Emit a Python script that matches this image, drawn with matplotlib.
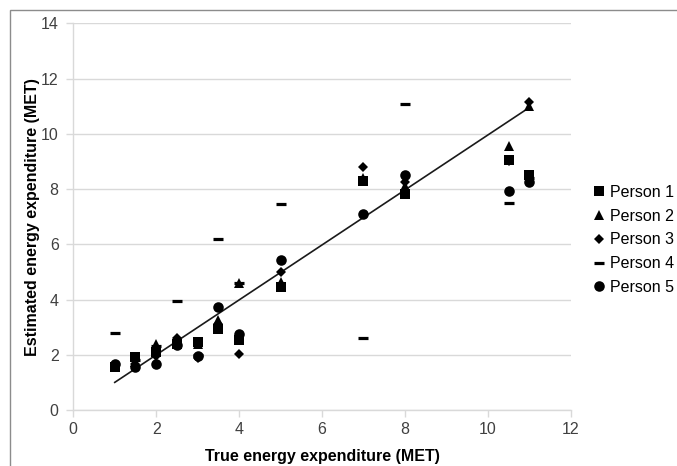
import matplotlib

matplotlib.use("Agg")
import matplotlib.pyplot as plt
from matplotlib.patches import Rectangle

# true activity intensity (MET), same for every person
true_met = [1, 1.5, 2, 2.5, 3, 3.5, 4, 5, 7, 8, 10.5, 11]

person1 = [1.56, 1.93, 2.10, 2.40, 2.47, 2.95, 2.53, 4.45, 8.28, 7.82, 9.05, 8.50]
person2 = [1.60, 1.75, 2.38, 2.55, 2.40, 3.27, 4.60, 4.63, 8.40, 8.10, 9.55, 11.00]
person3 = [1.55, 1.65, 1.95, 2.62, 1.87, 3.10, 2.02, 5.00, 8.78, 8.25, 9.00, 11.15]
person4 = [2.80, 1.80, 2.30, 3.96, 2.00, 6.20, 4.60, 7.46, 2.62, 11.07, 7.50, 8.40]
person5 = [1.66, 1.56, 1.66, 2.35, 1.95, 3.73, 2.74, 5.42, 7.10, 8.52, 7.92, 8.25]

# fitted line drawn in the original
fit_x = [1, 11]
fit_y = [1.0, 10.95]

GRID = "#d9d9d9"
TICK = "#404040"

plt.rcParams.update({
    "font.family": ["Liberation Sans", "DejaVu Sans"],
    "font.size": 11.5,
})

fig = plt.figure(figsize=(6.77, 4.66), dpi=100)
ax = fig.add_axes([73.3 / 677, 1 - 410 / 466, (570.7 - 73.3) / 677, (410 - 23.3) / 466])

# outer chart border (only left/top edges fall inside the picture)
fig.patches.append(Rectangle((10 / 677, -0.1), 1.2, 1 - 10 / 466 + 0.1,
                             transform=fig.transFigure, fill=False,
                             ec="#8c8c8c", lw=1.0))

ax.plot(fit_x, fit_y, color="#1a1a1a", lw=1.2, zorder=2)

series = [
    ("Person 1", person1, dict(marker="s", ms=7.2)),
    ("Person 2", person2, dict(marker="^", ms=7.4)),
    ("Person 3", person3, dict(marker="D", ms=5.2)),
    ("Person 4", person4, dict(marker="_", ms=7.8, mew=2.3)),
    ("Person 5", person5, dict(marker="o", ms=7.6)),
]
for name, vals, style in series:
    kw = dict(color="black", mec="black", linestyle="none", label=name)
    if style["marker"] != "_":
        kw["mew"] = 0
    kw.update(style)
    ax.plot(true_met, vals, zorder=3, **kw)

ax.set_xlim(0, 12)
ax.set_ylim(0, 14)
ax.set_xticks(range(0, 13, 2))
ax.set_yticks(range(0, 15, 2))
ax.grid(axis="y", color=GRID, lw=1.0, zorder=0)
ax.set_axisbelow(True)

for side in ["top", "right"]:
    ax.spines[side].set_visible(False)
for side in ["left", "bottom"]:
    ax.spines[side].set_color(GRID)
    ax.spines[side].set_linewidth(1.0)
ax.tick_params(axis="both", colors=GRID, labelcolor=TICK, length=5, width=1.0,
               labelsize=11.5)
ax.tick_params(axis="x", pad=4)
ax.tick_params(axis="y", pad=5.5)

ax.set_xlabel("True energy expenditure (MET)", fontweight="bold", fontsize=11.5,
              labelpad=8.5)
ax.set_ylabel("Estimated energy expenditure (MET)", fontweight="bold", fontsize=11.5,
              labelpad=0.5)

fig.legend(loc="center left", bbox_to_anchor=(591 / 677, 1 - 240 / 466),
           frameon=False, fontsize=11.5, handlelength=1.0, handletextpad=0.2,
           labelspacing=0.55, borderpad=0, borderaxespad=0, numpoints=1)

fig.savefig("out.png", dpi=100)
